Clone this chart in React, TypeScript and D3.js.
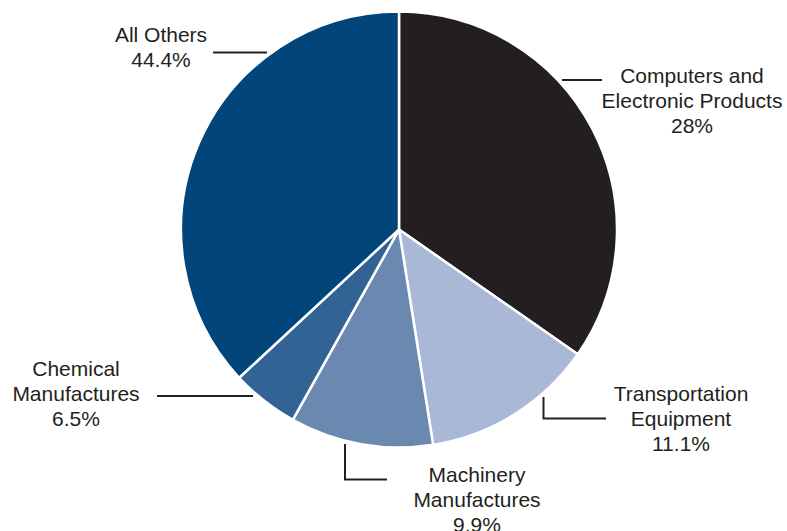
import React from "react";
import * as d3 from "d3";

// Data
const categories = [
  "Computers and Electronic Products",
  "Transportation Equipment",
  "Machinery Manufactures",
  "Chemical Manufactures",
  "All Others",
];
// slice sizes as drawn (share of circle)
const sliceValues = [34.7, 12.8, 10.6, 5.0, 36.9];
// percentages printed on labels
const labelPercents = ["28%", "11.1%", "9.9%", "6.5%", "44.4%"];
const labelLines = [
  ["Computers and", "Electronic Products"],
  ["Transportation", "Equipment"],
  ["Machinery", "Manufactures"],
  ["Chemical", "Manufactures"],
  ["All Others"],
];
const colors = ["#231f20", "#a9b8d6", "#6b88b0", "#336394", "#02457a"];

// Layout for labels (text center x, first baseline y) and leader polylines
const labelLayout = [
  { x: 692, y: 83, leader: [[562, 80], [602, 80]] },
  { x: 681, y: 400.5, leader: [[543.5, 397], [543.5, 418.5], [606, 418.5]] },
  { x: 477, y: 481.5, leader: [[345, 444], [345, 479.5], [387, 479.5]] },
  { x: 76, y: 376, leader: [[157, 396], [253, 396]] },
  { x: 161, y: 42, leader: [[213, 52.5], [267, 52.5]] },
];

const W = 787;
const H = 531;
const cx = 399;
const cy = 229.5;
const R = 218;

export default function App() {
  const pie = d3.pie<number>().sort(null).value((d) => d)(sliceValues);
  const arc = d3.arc<d3.PieArcDatum<number>>().innerRadius(0).outerRadius(R);
  const line = d3.line();
  return (
    <svg
      width={W}
      height={H}
      style={{ position: "absolute", left: 0, top: 0, background: "#fff" }}
      fontFamily="'Liberation Sans', Arial, Helvetica, sans-serif"
    >
      <g transform={`translate(${cx},${cy})`}>
        {pie.map((p, i) => (
          <path
            key={categories[i]}
            d={arc(p) || ""}
            fill={colors[i]}
            stroke="#fff"
            strokeWidth={2.5}
            strokeLinejoin="round"
          />
        ))}
      </g>
      {labelLayout.map((l, i) => (
        <g key={"lab" + i}>
          <path
            d={line(l.leader as [number, number][]) || ""}
            fill="none"
            stroke="#231f20"
            strokeWidth={2}
          />
          <text
            x={l.x}
            y={l.y}
            textAnchor="middle"
            fontSize={21}
            fill="#231f20"
          >
            {[...labelLines[i], labelPercents[i]].map((t, j) => (
              <tspan key={j} x={l.x} y={l.y + j * 25.2}>
                {t}
              </tspan>
            ))}
          </text>
        </g>
      ))}
    </svg>
  );
}
